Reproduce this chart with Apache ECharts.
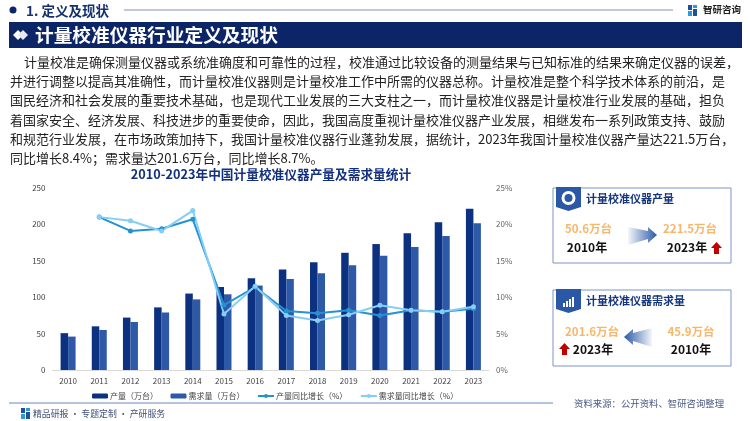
<!DOCTYPE html>
<html>
<head>
<meta charset="utf-8">
<style>
html, body { margin: 0; padding: 0; background: #fff; }
#main { width: 750px; height: 421px; }
</style>
<script src="https://cdn.jsdelivr.net/npm/echarts@6/dist/echarts.min.js"></script>
</head>
<body>
<div id="main"></div>
<script>
const years = ['2010','2011','2012','2013','2014','2015','2016','2017','2018','2019','2020','2021','2022','2023'];
const output = [50.6,60,72,86,105,114,126,138,148,161,173,188,203,221.5];
const demand = [45.9,55,66,79,97,104,116,125,133,144,157,169,184,201.6];
const outputGrowth = [null,21.0,19.1,19.4,20.7,8.9,11.4,8.1,7.8,8.2,7.5,8.2,8.0,8.4];
const demandGrowth = [null,21.0,20.5,19.1,21.9,7.7,11.5,7.5,6.8,7.6,8.9,8.2,8.0,8.7];
const bodyLines = [
  '计量校准是确保测量仪器或系统准确度和可靠性的过程，校准通过比较设备的测量结果与已知标准的结果来确定仪器的误差，',
  '并进行调整以提高其准确性，而计量校准仪器则是计量校准工作中所需的仪器总称。计量校准是整个科学技术体系的前沿，是',
  '国民经济和社会发展的重要技术基础，也是现代工业发展的三大支柱之一，而计量校准仪器是计量校准行业发展的基础，担负',
  '着国家安全、经济发展、科技进步的重要使命，因此，我国高度重视计量校准仪器产业发展，相继发布一系列政策支持、鼓励',
  '和规范行业发展，在市场政策加持下，我国计量校准仪器行业蓬勃发展，据统计，2023年我国计量校准仪器产量达221.5万台，',
  '同比增长8.4%；需求量达201.6万台，同比增长8.7%。'
];

const FONT = '"Noto Sans CJK SC", "Noto Sans", sans-serif';
const NAVY = '#0b2566';
const BLUE = '#2b58a6';

const label = (x, y, text, size, color, align, weight) => ({
  type: 'text', x, y,
  style: { text, fontSize: size, fontFamily: FONT, fill: color, align: align || 'left', verticalAlign: 'middle', fontWeight: weight || 'normal' }
});
const rect = (x, y, width, height, fill) => ({ type: 'rect', shape: { x, y, width, height }, style: { fill } });
const poly = (points, fill) => ({ type: 'polygon', shape: { points }, style: { fill } });
const fade = (from, to) => new echarts.graphic.LinearGradient(0, 0, 1, 0, [{ offset: 0, color: from }, { offset: 1, color: to }]);

const card = (y, h, title) => [
  { type: 'rect', shape: { x: 553, y, width: 178, height: h }, style: { fill: '#fff', stroke: '#7d95ca', lineWidth: 1 } },
  poly([[556, y - 1], [581, y - 1], [581, y + 19], [568.5, y + 23], [556, y + 19]], BLUE),
  label(586, y + 11, title, 11, '#14357f', 'left', 'bold')
];
const upArrow = (cx, cy) => poly([[cx, cy - 6], [cx + 5.5, cy], [cx + 2.5, cy], [cx + 2.5, cy + 6], [cx - 2.5, cy + 6], [cx - 2.5, cy], [cx - 5.5, cy]], '#c00000');
const logo = (x, y) => [rect(x, y, 4, 5, '#1f4fa0'), rect(x + 5, y, 4, 3, '#2b9ad6'), rect(x, y + 6, 4, 5, '#2b9ad6'), rect(x + 5, y + 4, 4, 7, '#1f4fa0')];

const decor = [
  // 页眉
  { type: 'circle', shape: { cx: 13, cy: 10, r: 3.5 }, style: { fill: NAVY } },
  label(26, 11, '1. 定义及现状', 13.5, '#14306f', 'left', 'bold'),
  { type: 'line', shape: { x1: 124, y1: 10, x2: 673, y2: 10 }, style: { stroke: '#8092bd', lineWidth: 1 } },
  ...logo(688, 5),
  label(703, 9.5, '智研咨询', 9.5, '#222', 'left', 'bold'),
  rect(9, 22, 733, 26, NAVY),
  poly([[13, 35], [18, 30], [23, 35], [18, 40]], '#fff'),
  poly([[18, 35], [23, 30], [28, 35], [23, 40]], '#e6e9f2'),
  label(35, 35, '计量校准仪器行业定义及现状', 18.7, '#fff', 'left', 'bold'),
  // 正文
  ...bodyLines.map((t, i) => label(i === 0 ? 24 : 10, 62 + i * 19.2, t, 13, '#222')),
  // 产量卡片
  ...card(188, 75, '计量校准仪器产量'),
  { type: 'circle', shape: { cx: 568.5, cy: 198, r: 7 }, style: { fill: '#fff' } },
  { type: 'circle', shape: { cx: 568.5, cy: 198, r: 4 }, style: { fill: BLUE } },
  label(588.5, 229, '50.6万台', 11.5, '#f8b668', 'center', 'bold'),
  label(587, 247, '2010年', 12, '#111', 'center', 'bold'),
  poly([[628, 227], [648, 231], [648, 227], [657, 235], [648, 243], [648, 239], [628, 245]], fade('rgba(43,88,166,0.05)', BLUE)),
  label(690, 229, '221.5万台', 11.5, '#f8b668', 'center', 'bold'),
  label(687, 247, '2023年', 12, '#111', 'center', 'bold'),
  upArrow(716.5, 248),
  // 需求量卡片
  ...card(290, 76, '计量校准仪器需求量'),
  rect(563, 303, 2, 4, '#fff'), rect(566, 301, 2, 6, '#fff'), rect(569, 299, 2, 8, '#fff'), rect(572, 297, 2, 10, '#fff'),
  label(592, 332, '201.6万台', 11.5, '#f8b668', 'center', 'bold'),
  label(593, 349, '2023年', 12, '#111', 'center', 'bold'),
  upArrow(564.5, 349),
  poly([[652, 328], [633, 333], [633, 329], [624, 337], [633, 345], [633, 341], [652, 347]], fade(BLUE, 'rgba(43,88,166,0.05)')),
  label(691, 332, '45.9万台', 11.5, '#f8b668', 'center', 'bold'),
  label(691, 349, '2010年', 12, '#111', 'center', 'bold'),
  // 页脚
  { type: 'line', shape: { x1: 9, y1: 403, x2: 553, y2: 403 }, style: { stroke: '#6f88bd', lineWidth: 1 } },
  label(574, 403, '资料来源：公开资料、智研咨询整理', 9.4, '#4a5a85'),
  ...logo(21, 408),
  label(33, 413.5, '精品研报 · 专题定制 · 产研服务', 8.9, '#3f5078')
];

const lineSeries = (name, data, color) => ({
  name, type: 'line', yAxisIndex: 1, data, z: 5,
  symbol: 'circle', symbolSize: 5, lineStyle: { color, width: 2 }, itemStyle: { color }
});
const barSeries = (name, data, color) => ({
  name, type: 'bar', data, barWidth: 7.5, barGap: 0, itemStyle: { color }
});
const axisText = { color: '#444', fontSize: 8, fontFamily: FONT, margin: 7 };

const chart = echarts.init(document.getElementById('main'), null, { renderer: 'canvas' });
chart.setOption({
  animation: false,
  backgroundColor: '#fff',
  title: {
    text: '2010-2023年中国计量校准仪器产量及需求量统计',
    left: 266, top: 163, textAlign: 'center',
    textStyle: { fontSize: 12.7, fontWeight: 'bold', color: '#12307f', fontFamily: FONT }
  },
  legend: {
    left: 87, top: 387, itemHeight: 5, itemWidth: 16, itemGap: 12.5,
    textStyle: { fontSize: 8, color: '#444', fontFamily: FONT, padding: [0, 0, 0, -3] },
    data: ['产量（万台）', '需求量（万台）', '产量同比增长（%）', '需求量同比增长（%）']
  },
  grid: { left: 52.5, right: 261, top: 188, bottom: 51 },
  xAxis: {
    type: 'category', data: years,
    axisLine: { lineStyle: { color: '#d9d9d9' } }, axisTick: { show: false },
    axisLabel: axisText
  },
  yAxis: [
    { type: 'value', min: 0, max: 250, interval: 50, splitLine: { show: false }, axisLine: { show: false }, axisTick: { show: false }, axisLabel: axisText },
    { type: 'value', min: 0, max: 25, interval: 5, splitLine: { show: false }, axisLine: { show: false }, axisTick: { show: false }, axisLabel: { ...axisText, color: '#666', formatter: '{value}%' } }
  ],
  series: [
    barSeries('产量（万台）', output, '#0d3181'),
    barSeries('需求量（万台）', demand, '#2e59a7'),
    lineSeries('产量同比增长（%）', outputGrowth, '#2391d2'),
    lineSeries('需求量同比增长（%）', demandGrowth, '#86cef5')
  ],
  graphic: decor
});
</script>
</body>
</html>
